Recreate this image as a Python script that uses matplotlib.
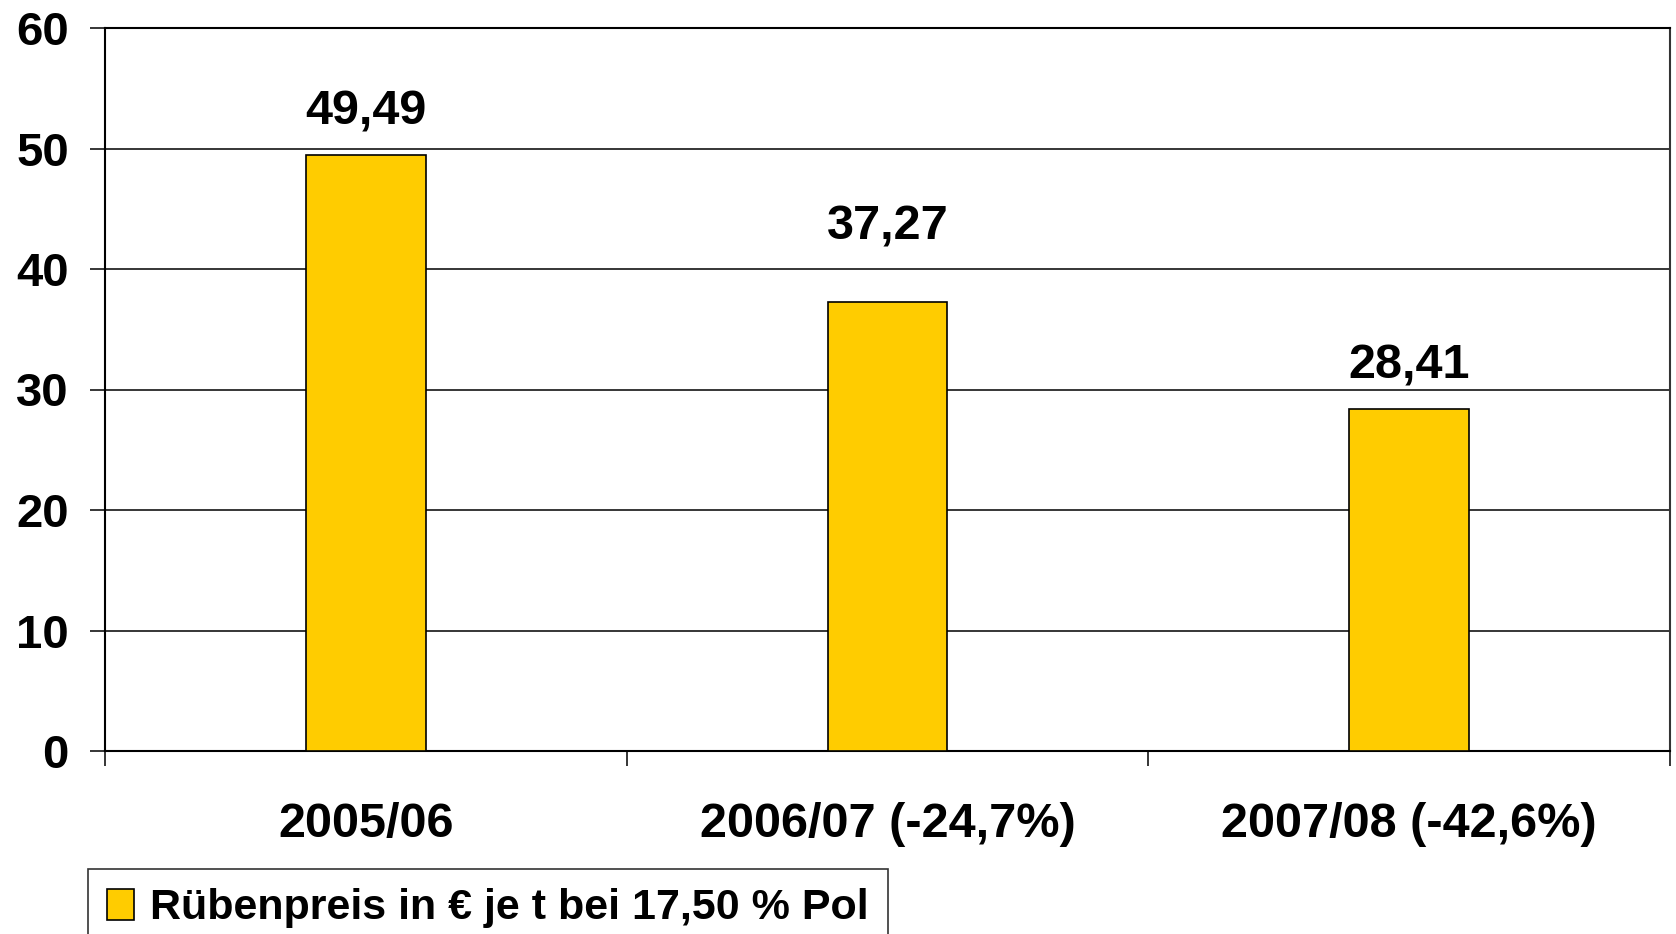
import numpy as np
import matplotlib.pyplot as plt

plt.rcParams['font.family'] = ['Liberation Sans', 'DejaVu Sans']
plt.rcParams['font.weight'] = 'bold'

categories = ['2005/06', '2006/07 (-24,7%)', '2007/08 (-42,6%)']
prices = [49.49, 37.27, 28.41]
value_labels = ['49,49', '37,27', '28,41']
label_offsets = [31, 54, 31]  # points above bar top
legend_label = 'Rübenpreis in € je t bei 17,50 % Pol'
yticks = [0, 10, 20, 30, 40, 50, 60]

bar_color = '#FFCC00'

fig = plt.figure(figsize=(16.76, 9.34), dpi=100)
ax = fig.add_axes([105/1676, 1-751/934, 1565/1676, 723/934])

x = np.arange(len(categories))
bars = ax.bar(x, prices, width=0.23, color=bar_color, edgecolor='black',
              linewidth=1.2, zorder=3, label=legend_label)

for xi, v, lab, off in zip(x, prices, value_labels, label_offsets):
    ax.annotate(lab, (xi, v), xytext=(0, off), textcoords='offset points',
                ha='center', va='center', fontsize=35, fontweight='bold')

ax.set_xlim(-0.5, 2.5)
ax.set_ylim(0, 60)
ax.set_yticks(yticks)
ax.set_yticklabels([str(t) for t in yticks], fontsize=34, fontweight='bold')
ax.yaxis.grid(True, color='black', linewidth=1.1, zorder=0)

ax.set_xticks([-0.5, 0.5, 1.5, 2.5])
ax.set_xticklabels([])
ax.set_xticks(x, minor=True)
ax.set_xticklabels(categories, minor=True, fontsize=35, fontweight='bold')
ax.tick_params(axis='x', which='major', direction='out', length=11, width=1.1)
ax.tick_params(axis='x', which='minor', length=0, pad=37)
ax.tick_params(axis='y', direction='out', length=11, width=1.1, pad=15)

for s in ['left', 'bottom', 'top']:
    ax.spines[s].set_color('black')
    ax.spines[s].set_linewidth(1.5)
ax.spines['right'].set_color('#333333')
ax.spines['right'].set_linewidth(1.5)

leg = fig.legend(handles=[bars], labels=[legend_label], loc='upper left',
                 bbox_to_anchor=(88/1676, 1-869/934), fontsize=31,
                 frameon=True, fancybox=False, edgecolor='black',
                 handlelength=0.62, handleheight=0.75, handletextpad=0.38,
                 borderpad=0.45, borderaxespad=0)
leg.get_frame().set_linewidth(1.2)
for t in leg.get_texts():
    t.set_fontweight('bold')

fig.savefig('out.png', dpi=100)
